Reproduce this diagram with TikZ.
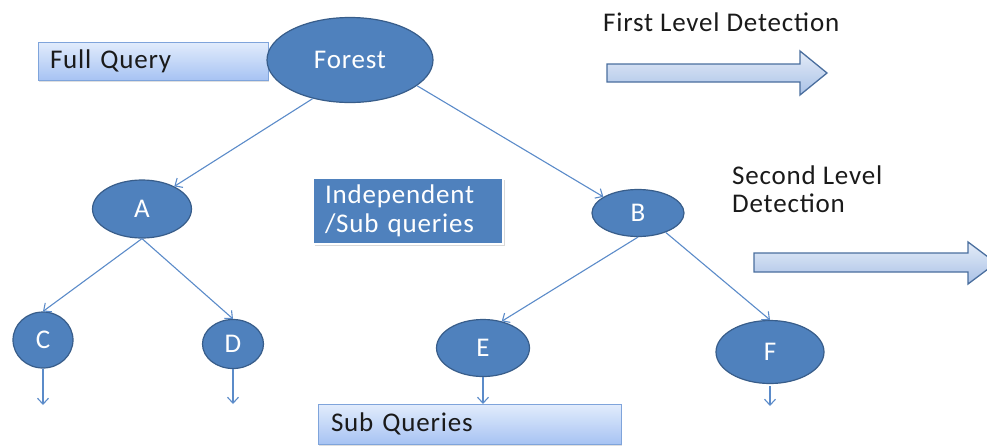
\documentclass[tikz,border=0pt]{standalone}
\usepackage{fontspec}
\setmainfont{Carlito}[LetterSpace=3]
\usetikzlibrary{shapes.geometric,arrows.meta,shadows}

\definecolor{nodeblue}{HTML}{4F81BD}
\definecolor{nodeline}{HTML}{385D8A}
\definecolor{edgeblue}{HTML}{5B8BC9}
\definecolor{boxtop}{HTML}{E2ECFC}
\definecolor{boxbot}{HTML}{A7C3F3}
\definecolor{boxline}{HTML}{7FA4DB}
\definecolor{arrtop}{HTML}{E4ECF8}
\definecolor{arrbot}{HTML}{A9C1E6}
\definecolor{arrline}{HTML}{4A6E9E}
\definecolor{txt}{HTML}{1A1A1A}

\tikzset{
  treenode/.style={ellipse, fill=nodeblue, draw=nodeline, line width=1.2pt,
    inner sep=0pt, text=white, font=\fontsize{27}{30}\selectfont},
  labelbox/.style={rectangle, draw=boxline, line width=0.9pt,
    top color=boxtop, bottom color=boxbot, text=txt, align=left,
    font=\fontsize{27}{30}\selectfont, inner ysep=0pt,
    drop shadow={opacity=0.25, shadow xshift=1.2pt, shadow yshift=-1.5pt}},
  infobox/.style={rectangle, fill=nodeblue, draw=white, line width=1.5pt,
    text=white, align=left, font=\fontsize{27}{29}\selectfont,
    drop shadow={opacity=0.3, shadow xshift=1.5pt, shadow yshift=-1.5pt}},
  heading/.style={text=txt, align=left, font=\fontsize{27}{28}\selectfont, inner sep=0pt},
  edge/.style={draw=edgeblue, line width=1.1pt,
    -{Straight Barb[length=6pt,width=11pt,line width=1.1pt]}},
  blockarrow/.style={draw=arrline, line width=1.3pt, top color=arrtop, bottom color=arrbot}
}

\begin{document}
\begin{tikzpicture}[x=1pt,y=-1pt]
  \useasboundingbox (0,0) rectangle (987,445);
  \clip (0,0) rectangle (987,445);

  % label boxes
  \node[labelbox, minimum width=230pt, minimum height=38pt, text width=206pt,
        inner xsep=12pt] (full) at (153,61) {Full Query};
  \node[labelbox, minimum width=303pt, minimum height=40pt, text width=277pt,
        inner xsep=13pt] (sub) at (469.5,424) {Sub Queries};

  % tree nodes
  \node[treenode, minimum width=166pt, minimum height=85pt] (forest) at (350,60) {Forest};
  \node[treenode, minimum width=99pt,  minimum height=58pt] (A) at (142,209) {A};
  \node[treenode, minimum width=92pt,  minimum height=47pt] (B) at (638,213) {B};
  \node[treenode, minimum width=60pt,  minimum height=56pt] (C) at (43,340) {C};
  \node[treenode, minimum width=61pt,  minimum height=49pt] (D) at (233,344) {D};
  \node[treenode, minimum width=93pt,  minimum height=57pt] (E) at (483,348) {E};
  \node[treenode, minimum width=108pt, minimum height=63pt] (F) at (770,352) {F};

  % middle caption
  \node[infobox, minimum width=190pt, minimum height=66pt, text width=166pt,
        inner xsep=12pt] (indep) at (408,211) {Independent\\/Sub queries};

  % level headings
  \node[heading, anchor=west] (lvl1) at (603,22) {First Level Detection};
  \node[heading, anchor=north west] (lvl2) at (732,166) {Second Level\\Detection};

  % block arrows
  \draw[blockarrow] (607,64) -- (800,64) -- (800,51) -- (827,73) -- (800,95)
        -- (800,82) -- (607,82) -- cycle;
  \draw[blockarrow] (754,253) -- (968,253) -- (968,242) -- (996,263) -- (968,284)
        -- (968,272) -- (754,272) -- cycle;

  % connectors
  \coordinate (cend) at (43,405);
  \coordinate (dend) at (233,404);
  \coordinate (eend) at (483,404);
  \coordinate (fend) at (770,406);

  \draw[edge] (forest.226) -- (A.35);
  \draw[edge] (forest.-21) -- (B.155);
  \draw[edge] (A.south) -- (C.north);
  \draw[edge] (A.south) -- (D.north);
  \draw[edge] (B.south) -- (E.55);
  \draw[edge] (B.-35) -- (F.north);
  \draw[edge] (C.south) -- (cend);
  \draw[edge] (D.south) -- (dend);
  \draw[edge] (E.south) -- (eend);
  \draw[edge] (F.south) ++(0,2) -- (fend);
\end{tikzpicture}
\end{document}
